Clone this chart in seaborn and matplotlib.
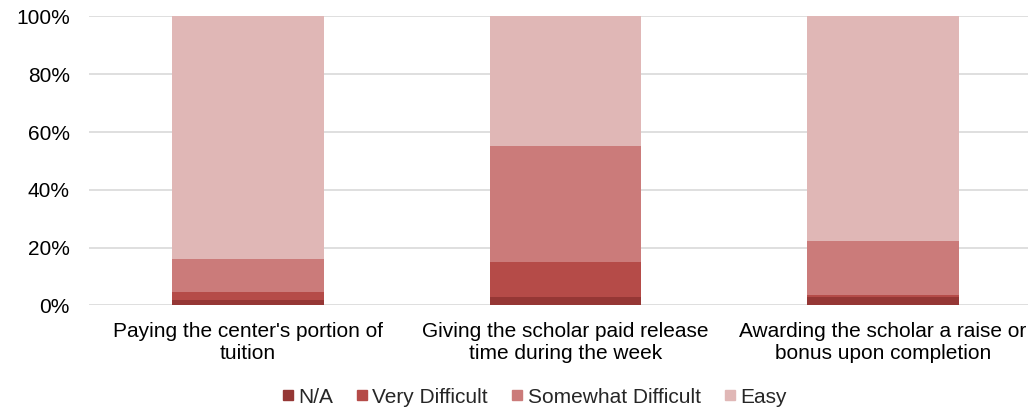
import pandas as pd
import matplotlib.pyplot as plt
import seaborn as sns
from matplotlib.lines import Line2D
from matplotlib.ticker import PercentFormatter

sns.set_theme(style="white")
plt.rcParams['font.family'] = ['Liberation Sans', 'DejaVu Sans']

# data (percent of respondents)
categories = ["Paying the center's portion of\ntuition",
              "Giving the scholar paid release\ntime during the week",
              "Awarding the scholar a raise or\nbonus upon completion"]
na = [2.0, 2.8, 2.9]
very_difficult = [2.6, 12.1, 0.8]
somewhat_difficult = [11.5, 40.3, 18.5]
easy = [83.9, 44.8, 77.8]

series = ["N/A", "Very Difficult", "Somewhat Difficult", "Easy"]
colors = ["#953735", "#B54B48", "#CB7B7A", "#E0B7B6"]

df = pd.DataFrame({"category": categories, "N/A": na, "Very Difficult": very_difficult,
                   "Somewhat Difficult": somewhat_difficult, "Easy": easy})
cum = df[series].cumsum(axis=1)
cum["category"] = df["category"]

fig = plt.figure(figsize=(10.28, 4.12), dpi=100)
ax = fig.add_axes([0.0868, 0.2585, 0.9266, 0.7015])

# draw from the top layer down so each stacked piece shows
for name, col in zip(series[::-1], colors[::-1]):
    sns.barplot(data=cum, x="category", y=name, color=col, ax=ax,
                width=0.477, saturation=1, edgecolor="none", linewidth=0, zorder=3)

ax.set_ylim(0, 100)
ax.set_xlim(-0.5, 2.5)
ax.set_yticks(range(0, 101, 20))
ax.yaxis.set_major_formatter(PercentFormatter(decimals=0))
ax.grid(axis="y", color="#D9D9D9", linewidth=1.2, zorder=0)
ax.set_axisbelow(True)
for s in ax.spines.values():
    s.set_visible(False)
ax.set_xlabel("")
ax.set_ylabel("")
ax.tick_params(axis="x", length=0, pad=12, labelsize=15, colors="#000000")
ax.tick_params(axis="y", length=0, pad=14, labelsize=15, colors="#000000")

handles = [Line2D([0], [0], marker="s", linestyle="none", markersize=7.5,
                  markerfacecolor=c, markeredgecolor=c) for c in colors]
fig.legend(handles, series, loc="center", bbox_to_anchor=(0.52, 0.036), ncol=4,
           frameon=False, fontsize=15, handlelength=0.5, handletextpad=0.25,
           columnspacing=1.15)

plt.savefig("out.png", dpi=100)
